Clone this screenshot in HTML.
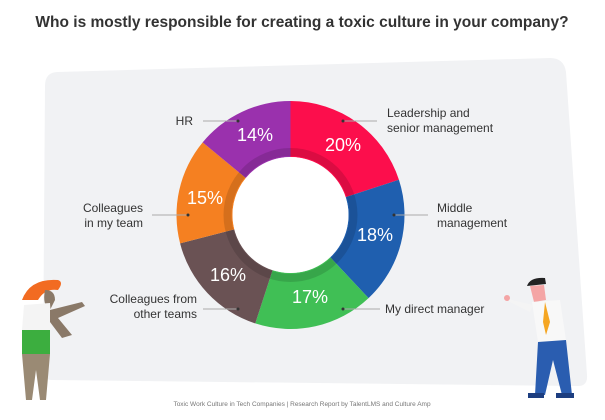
<!DOCTYPE html>
<html><head><style>
body{margin:0;background:#fff;}
svg{display:block;font-family:"Liberation Sans",sans-serif;}
</style></head><body>
<svg width="605" height="420" viewBox="0 0 605 420">
<path d="M58 72 Q45 72 45 86 L43 372 Q43 380 52 380 L578 386 Q588 386 587 375 L566 72 Q564 58 550 58 Z" fill="#f1f2f4"/>
<text x="302" y="27" text-anchor="middle" font-size="15.5" fill="#333" font-weight="bold">Who is mostly responsible for creating a toxic culture in your company?</text>
<g id="donut"></g>
<circle cx="290.5" cy="215" r="63" fill="none" stroke="rgba(0,0,0,0.13)" stroke-width="8"/>
<circle cx="290.5" cy="215" r="58" fill="#fff"/>
<g fill="#fff" font-size="18" text-anchor="middle">
<text x="255" y="141">14%</text>
<text x="343" y="151">20%</text>
<text x="375" y="241">18%</text>
<text x="310" y="303">17%</text>
<text x="228" y="281">16%</text>
<text x="205" y="204">15%</text>
</g>
<g stroke="#aaa" stroke-width="1">
<line x1="203" y1="121" x2="238" y2="121"/>
<line x1="343" y1="121" x2="377" y2="121"/>
<line x1="394" y1="215" x2="428" y2="215"/>
<line x1="343" y1="309" x2="380" y2="309"/>
<line x1="203" y1="309" x2="238" y2="309"/>
<line x1="152" y1="215" x2="188" y2="215"/>
</g>
<g fill="#333"><circle cx="238" cy="121" r="1.5"/><circle cx="343" cy="121" r="1.5"/><circle cx="394" cy="215" r="1.5"/><circle cx="343" cy="309" r="1.5"/><circle cx="238" cy="309" r="1.5"/><circle cx="188" cy="215" r="1.5"/></g>
<g font-size="12" fill="#333">
<text x="193" y="125" text-anchor="end">HR</text>
<text x="387" y="117">Leadership and</text>
<text x="387" y="132">senior management</text>
<text x="437" y="212">Middle</text>
<text x="437" y="227">management</text>
<text x="385" y="313">My direct manager</text>
<text x="197" y="303" text-anchor="end">Colleagues from</text>
<text x="197" y="318" text-anchor="end">other teams</text>
<text x="143" y="212" text-anchor="end">Colleagues</text>
<text x="143" y="227" text-anchor="end">in my team</text>
</g>
<text x="302" y="406" text-anchor="middle" font-size="6.5" fill="#777">Toxic Work Culture in Tech Companies | Research Report by TalentLMS and Culture Amp</text>
<!-- woman -->
<path d="M22 300 Q30 278 58 280 Q64 282 58 290 Q45 288 38 300 Z" fill="#f26b21"/>
<path d="M45 290 Q55 290 55 300 L50 310 Q42 305 45 290Z" fill="#8a7968"/>
<path d="M24 305 L50 303 L52 330 L22 330 Z" fill="#f4f4f4"/>
<path d="M50 310 L82 302 L85 306 L58 318 L72 335 L62 338 L50 322Z" fill="#8a7968"/>
<rect x="22" y="330" width="28" height="24" fill="#3cae3f"/>
<path d="M22 354 L50 354 L46 400 L40 400 L36 370 L32 400 L26 400Z" fill="#9a8a74"/>
<!-- man -->
<path d="M527 286 Q530 277 545 278 L546 284 Z" fill="#222"/>
<path d="M530 286 L544 285 L546 300 L534 302Z" fill="#f4a5a5"/>
<path d="M532 302 L560 300 L566 340 L538 342Z" fill="#f8f8f8"/>
<path d="M545 302 L550 322 L546 335 L543 322Z" fill="#f5a623"/>
<path d="M533 305 L512 300 L506 297 L510 302 L530 312Z" fill="#f4f4f4"/>
<circle cx="507" cy="298" r="3" fill="#f4a5a5"/>
<path d="M538 342 L566 340 L572 395 L562 395 L553 360 L545 395 L535 395Z" fill="#2a5db0"/>
<rect x="528" y="393" width="16" height="5" fill="#1d3e80"/>
<rect x="556" y="393" width="18" height="5" fill="#1d3e80"/>
<script>
(function(){
var cx=290.5,cy=215,R=114,r=58;
var segs=[[20,"#fc0e4c"],[18,"#1f5faf"],[17,"#40bf55"],[16,"#6a5254"],[15,"#f58021"],[14,"#9a31ad"]];
var a=0,g=document.getElementById("donut"),ns="http://www.w3.org/2000/svg";
function p(rad,ang){var t=(ang-90)*Math.PI/180;return [cx+rad*Math.cos(t),cy+rad*Math.sin(t)];}
segs.forEach(function(s){var b=a+s[0]*3.6;var p1=p(R,a),p2=p(R,b),p3=p(r,b),p4=p(r,a);var l=(b-a)>180?1:0;
var d="M"+p1+" A"+R+" "+R+" 0 "+l+" 1 "+p2+" L"+p3+" A"+r+" "+r+" 0 "+l+" 0 "+p4+"Z";
var e=document.createElementNS(ns,"path");e.setAttribute("d",d);e.setAttribute("fill",s[1]);g.appendChild(e);a=b;});
})();
</script>
</svg>
</body></html>
